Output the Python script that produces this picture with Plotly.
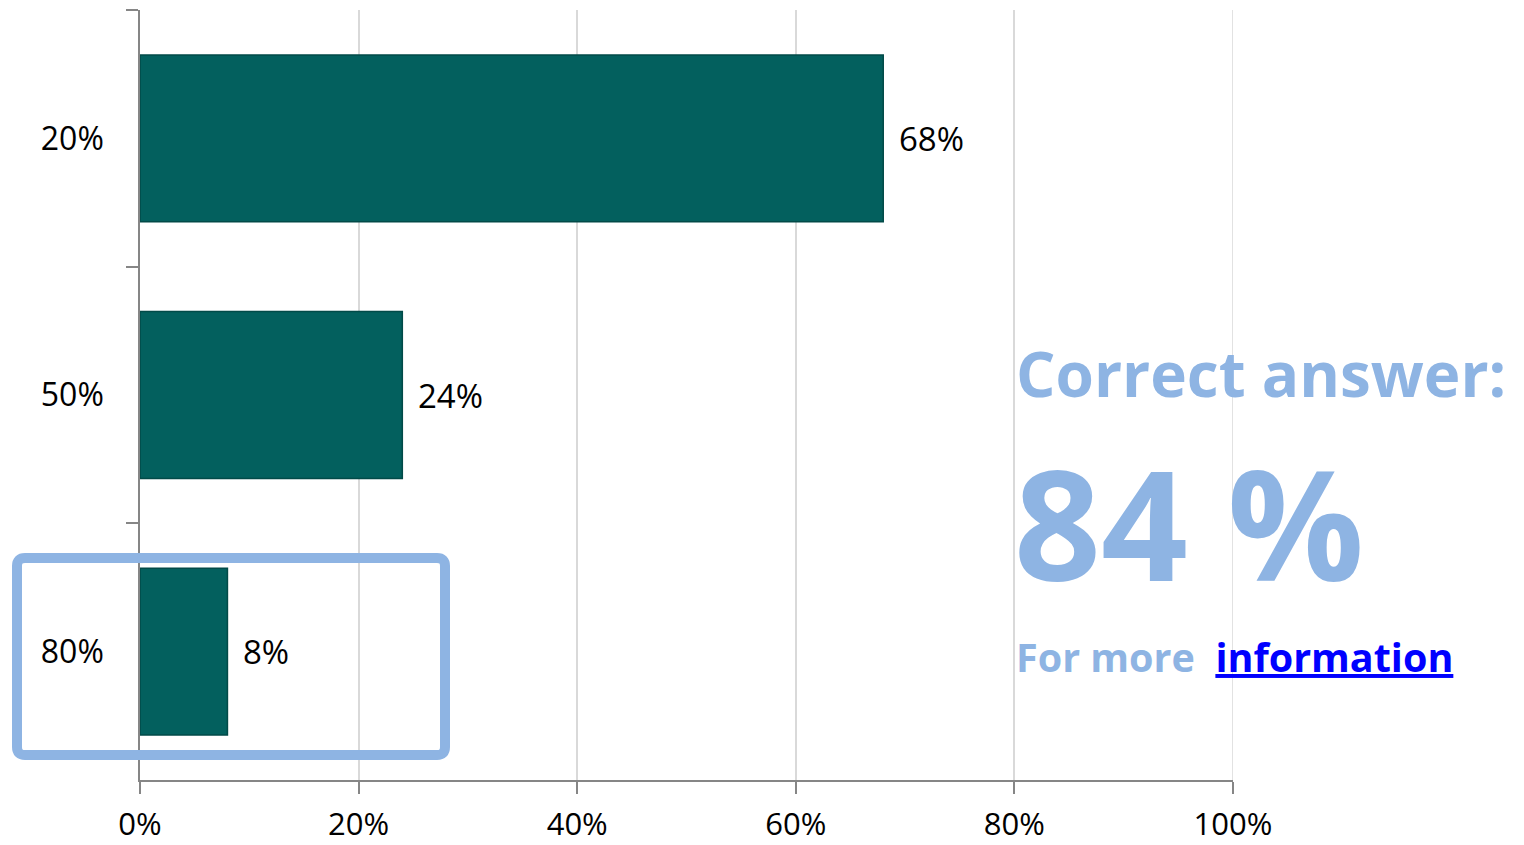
import plotly.graph_objects as go

categories = ["20%", "50%", "80%"]
values = [68, 24, 8]
value_labels = ["68%", "24%", "8%"]
x_ticks = [0, 20, 40, 60, 80, 100]
x_tick_labels = ["0%", "20%", "40%", "60%", "80%", "100%"]

# the page body has an 8px margin, so the figure starts at (8, 8)
OFF = 8
W, H = 1524 - OFF, 845 - OFF
L, R, T, B = 140 - OFF, 291, 10 - OFF, 65
PW, PH = W - L - R, H - T - B

def px(xp):
    return (xp - (L + OFF)) / PW

def py(yp):
    return ((T + OFF + PH) - yp) / PH

BAR = "#03605E"
ACC = "#8EB4E3"
FONT = "Open Sans, Lato, sans-serif"

fig = go.Figure()
fig.add_trace(go.Bar(
    y=categories, x=values, orientation="h",
    marker=dict(color=BAR, line=dict(color="#024a48", width=1.5)),
    width=0.65, hoverinfo="skip",
))

annotations = []
for c, v, t in zip(categories, values, value_labels):
    annotations.append(dict(x=v, y=c, xref="x", yref="y", text=t, showarrow=False,
                            xanchor="left", yanchor="middle", xshift=14,
                            font=dict(family=FONT, size=33, color="black")))

annotations += [
    dict(x=px(1014), y=py(373), xref="paper", yref="paper", text="<b>Correct answer:</b>",
         showarrow=False, xanchor="left", yanchor="middle",
         font=dict(family=FONT, size=62, color=ACC)),
    dict(x=px(1012), y=py(522), xref="paper", yref="paper", text="<b>84 %</b>",
         showarrow=False, xanchor="left", yanchor="middle",
         font=dict(family=FONT, size=152, color=ACC)),
    dict(x=px(1014), y=py(657), xref="paper", yref="paper",
         text="<b>For more  <a href='#' style='color:#0000FF'><span style='color:#0000FF;text-decoration:underline'>information</span></a></b>",
         showarrow=False, xanchor="left", yanchor="middle",
         font=dict(family=FONT, size=39.5, color=ACC)),
]

# rounded highlight frame around the last category
x0, x1, y0, y1, r = 17, 445, 558, 755, 8
def P(x, y):
    return f"{px(x)},{py(y)}"
path = (f"M {P(x0 + r, y0)} L {P(x1 - r, y0)} Q {P(x1, y0)} {P(x1, y0 + r)} "
        f"L {P(x1, y1 - r)} Q {P(x1, y1)} {P(x1 - r, y1)} "
        f"L {P(x0 + r, y1)} Q {P(x0, y1)} {P(x0, y1 - r)} "
        f"L {P(x0, y0 + r)} Q {P(x0, y0)} {P(x0 + r, y0)} Z")
shapes = [
    dict(type="line", xref="x", yref="paper", x0=x_ticks[-1], x1=x_ticks[-1], y0=0, y1=1,
         line=dict(color="#D9D9D9", width=1.5), layer="below"),
    dict(type="path", xref="paper", yref="paper", path=path,
         line=dict(color=ACC, width=10), layer="above"),
]

fig.update_layout(
    width=W, height=H,
    margin=dict(l=L, r=R, t=T, b=B, autoexpand=False),
    paper_bgcolor="white", plot_bgcolor="white",
    showlegend=False,
    bargap=0.35,
    annotations=annotations,
    shapes=shapes,
    font=dict(family=FONT, size=30, color="black"),
)
fig.update_xaxes(
    range=[0, 100], tickvals=x_ticks, ticktext=x_tick_labels,
    showgrid=True, gridcolor="#D9D9D9", gridwidth=1.5,
    showline=True, linecolor="#868686", linewidth=1.5,
    ticks="outside", ticklen=12, tickcolor="#868686", tickwidth=1.5,
    ticklabelstandoff=4, automargin=False,
    zeroline=False, tickfont=dict(family=FONT, size=31, color="black"),
    fixedrange=True,
)
fig.update_yaxes(
    type="category", categoryorder="array", categoryarray=categories,
    autorange="reversed",
    showgrid=False, showline=True, linecolor="#868686", linewidth=1.5,
    ticks="outside", ticklen=12, tickcolor="#868686", tickwidth=1.5,
    tickson="boundaries", ticklabelstandoff=28, automargin=False,
    tickfont=dict(family=FONT, size=32, color="black"),
    fixedrange=True,
)

fig.write_html("out.html", config={"displayModeBar": False})
